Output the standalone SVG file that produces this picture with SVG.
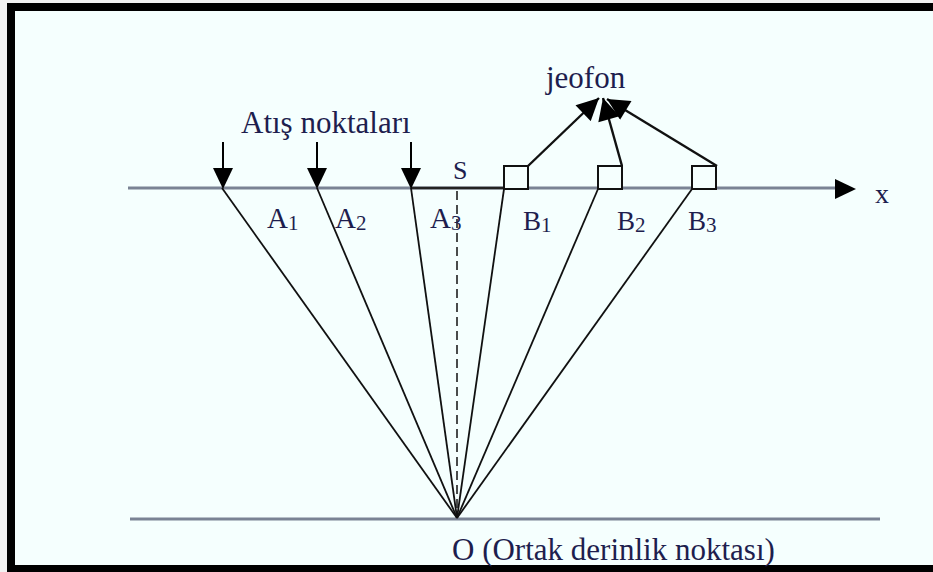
<svg xmlns="http://www.w3.org/2000/svg" width="933" height="572" viewBox="0 0 933 572">
<style>
.t{font-family:"Liberation Serif","Times New Roman",serif;fill:#1e1e4e}
.ax{stroke:#7a8394;stroke-width:3;fill:none}
.ray{stroke:#111;stroke-width:1.8;fill:none}
.box{stroke:#111;stroke-width:2;fill:#f5fffe}
.jar{stroke:#111;stroke-width:2.4;fill:none;marker-end:url(#ah)}
</style>
<defs>
<marker id="ah" viewBox="0 0 10 10" refX="10" refY="5" markerUnits="userSpaceOnUse" markerWidth="24" markerHeight="22" orient="auto">
<path d="M0,0 L10,5 L0,10 z" fill="#000"/>
</marker>
</defs>
<rect x="0" y="0" width="933" height="572" fill="#f2f2f2"/>
<rect x="7" y="3" width="926" height="569" fill="#000"/>
<rect x="15" y="11" width="918" height="554" fill="#f5fffe"/>
<g id="connectors">
<line class="ax" x1="128" y1="188" x2="840" y2="188"/>
<polygon points="835,179 856,189 835,199" fill="#000"/>
<line class="ax" x1="130" y1="519" x2="880" y2="519"/>
<line x1="411" y1="188" x2="504" y2="188" stroke="#222" stroke-width="2.5"/>
<line class="ray" x1="222" y1="188" x2="457" y2="518"/>
<line class="ray" x1="317" y1="188" x2="457" y2="518"/>
<line class="ray" x1="411" y1="188" x2="457" y2="518"/>
<line class="ray" x1="504" y1="189" x2="457" y2="518"/>
<line class="ray" x1="598" y1="189" x2="457" y2="518"/>
<line class="ray" x1="692" y1="189" x2="457" y2="518"/>
<line x1="457" y1="191" x2="457" y2="516" stroke="#111" stroke-width="1.5" stroke-dasharray="9 5"/>
<line x1="223" y1="142" x2="223" y2="172" stroke="#000" stroke-width="2"/>
<polygon points="213,168 233,168 223,189" fill="#000"/>
<line x1="317" y1="142" x2="317" y2="172" stroke="#000" stroke-width="2"/>
<polygon points="307,168 327,168 317,189" fill="#000"/>
<line x1="411" y1="142" x2="411" y2="172" stroke="#000" stroke-width="2"/>
<polygon points="401,168 421,168 411,189" fill="#000"/>
<line class="jar" x1="528" y1="166" x2="599" y2="98"/>
<line class="jar" x1="622" y1="166" x2="603" y2="98"/>
<line class="jar" x1="717" y1="166" x2="607" y2="99"/>
</g>
<g id="B1node"><rect class="box" x="504" y="166" width="24" height="23"/></g>
<g id="B2node"><rect class="box" x="598" y="166" width="24" height="23"/></g>
<g id="B3node"><rect class="box" x="692" y="166" width="24" height="23"/></g>
<g id="labels">
<text class="t" x="241" y="133" font-size="31">Atış noktaları</text>
<text class="t" x="546" y="88" font-size="31">jeofon</text>
<text class="t" x="453" y="179" font-size="26">S</text>
<text class="t" x="875" y="203" font-size="28">x</text>
<text class="t" x="267" y="228" font-size="29">A<tspan font-size="21" dy="2">1</tspan></text>
<text class="t" x="335" y="228" font-size="29">A<tspan font-size="21" dy="2">2</tspan></text>
<text class="t" x="430" y="228" font-size="29">A<tspan font-size="21" dy="2">3</tspan></text>
<text class="t" x="523" y="230" font-size="27">B<tspan font-size="21" dy="2">1</tspan></text>
<text class="t" x="617" y="230" font-size="27">B<tspan font-size="21" dy="2">2</tspan></text>
<text class="t" x="688" y="230" font-size="27">B<tspan font-size="21" dy="2">3</tspan></text>
<text class="t" x="452" y="560" font-size="31">O (Ortak derinlik noktası)</text>
</g>
</svg>
